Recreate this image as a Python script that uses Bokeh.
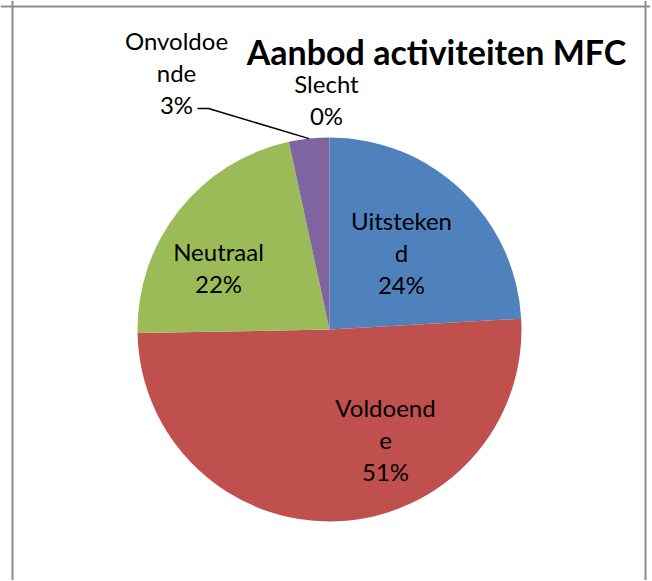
import math
from bokeh.plotting import figure
from bokeh.models import Range1d, Span, ColumnDataSource
from bokeh.core.properties import value
from bokeh.embed import file_html
from bokeh.resources import INLINE

# ---- data ----
categories = ["Uitstekend", "Voldoende", "Neutraal", "Onvoldoende", "Slecht"]
label_texts = ["Uitsteken\nd", "Voldoend\ne", "Neutraal", "Onvoldoe\nnde", "Slecht"]
shares = [24.1, 50.6, 21.9, 3.4, 0.0]
colors = ["#4F81BD", "#C0504D", "#9BBB59", "#8064A2", "#4BACC6"]
title_text = "Aanbod activiteiten MFC"

# ---- layout (screen pixels in page coordinates) ----
W, H = 650, 580
OX, OY = 0, 0
def sx(x):  # page x -> data x
    return x - OX
def sy(y):  # page y -> data y
    return (OY + H) - y

cx, cy, R = 329, 329, 192
label_pos = [(401, 252), (385, 439), (218, 267), (176, 72), (326, 99)]
FONT = "Lato"

p = figure(width=W, height=H, output_backend="svg", toolbar_location=None,
           x_range=Range1d(0, W), y_range=Range1d(0, H), min_border=0)
p.axis.visible = False
p.grid.visible = False
p.outline_line_color = None
p.background_fill_color = "white"
p.border_fill_color = "white"

# frame
for loc in [sx(12), sx(645)]:
    p.add_layout(Span(location=loc, dimension="height", line_color="#8c8c8c", line_width=2))
p.add_layout(Span(location=sy(6), dimension="width", line_color="#8c8c8c", line_width=2))

# wedges (zero-size slices are not drawn)
total = sum(shares)
starts, ends, mids = [], [], []
acc = 0.0
for s in shares:
    a0 = math.pi / 2 - 2 * math.pi * acc / total
    acc += s
    a1 = math.pi / 2 - 2 * math.pi * acc / total
    starts.append(a0)
    ends.append(a1)
    mids.append((a0 + a1) / 2)

keep = [k for k, s in enumerate(shares) if s > 0]
src = ColumnDataSource(dict(start=[starts[k] for k in keep], end=[ends[k] for k in keep],
                            color=[colors[k] for k in keep], cat=[categories[k] for k in keep]))
p.wedge(x=sx(cx), y=sy(cy), radius=R, start_angle="start", end_angle="end",
        direction="clock", fill_color="color", line_color=None, source=src)

# labels
texts = [f"{t}\n{round(s)}%" for t, s in zip(label_texts, shares)]
lx = [sx(x) for x, _ in label_pos]
ly = [sy(y) for _, y in label_pos]
p.text(x=lx, y=ly, text=texts, text_align="center", text_baseline="middle",
       text_font=value(FONT), text_font_size="24px", text_color="#000000",
       text_line_height=1.1)

# leader line for Onvoldoende
i = 3
ex = sx(cx) + R * math.cos(mids[i])
ey = sy(cy) + R * math.sin(mids[i])
p.line(x=[sx(197), sx(208), ex], y=[sy(108), sy(108), ey], line_color="black", line_width=1.5)

# title
p.text(x=[sx(436)], y=[sy(51)], text=[title_text], text_align="center", text_baseline="middle",
       text_font=value(FONT), text_font_style="bold", text_font_size="34px", text_color="#000000")

open("out.html", "w").write(file_html(p, INLINE))
